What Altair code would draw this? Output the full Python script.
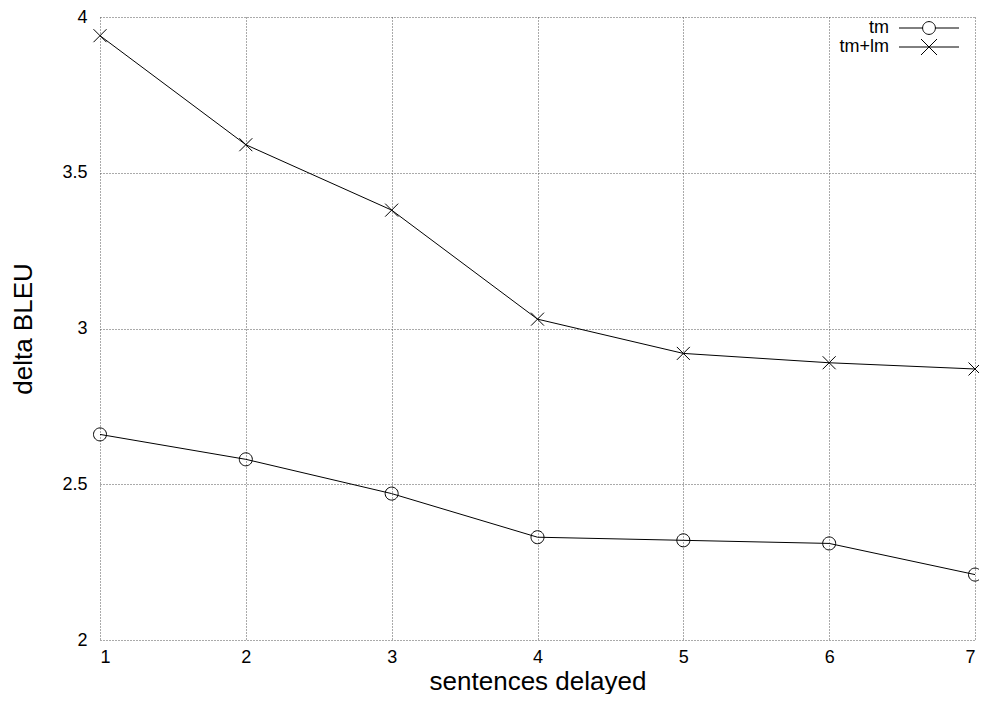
import altair as alt
import pandas as pd

delays = [1, 2, 3, 4, 5, 6, 7]
tm = [2.66, 2.58, 2.47, 2.33, 2.32, 2.31, 2.21]
tm_lm = [3.94, 3.59, 3.38, 3.03, 2.92, 2.89, 2.87]
series_names = ["tm", "tm+lm"]
y_ticks = [2, 2.5, 3, 3.5, 4]

rows = []
for d, v in zip(delays, tm):
    rows.append({"delay": d, "bleu": v, "series": "tm"})
for d, v in zip(delays, tm_lm):
    rows.append({"delay": d, "bleu": v, "series": "tm+lm"})
df = pd.DataFrame(rows)

CIRCLE = "M-1,0A1,1 0 1,1 1,0A1,1 0 1,1 -1,0"
CROSS = "M-1,-1L1,1M-1,1L1,-1"
# legend symbols: unit = 8px (symbolSize 256)
LEG_CIRCLE = "M-3.75,0H-0.8M0.8,0H3.75M-0.8,0A0.8,0.8 0 1,1 0.8,0A0.8,0.8 0 1,1 -0.8,0"
LEG_CROSS = "M-3.75,0H3.75M-1,-1L1,1M-1,1L1,-1"

FONT = "Liberation Sans"

x_enc = alt.X("delay:Q", title="sentences delayed",
              scale=alt.Scale(domain=[1, 7], nice=False),
              axis=alt.Axis(values=delays, format="~g"))
y_enc = alt.Y("bleu:Q", title="delta BLEU",
              scale=alt.Scale(domain=[2, 4], nice=False, zero=False),
              axis=alt.Axis(values=y_ticks, format="~g"))

base = alt.Chart(df)

lines = base.mark_line(color="black", strokeWidth=1).encode(
    x=x_enc, y=y_enc, detail="series:N"
)

points = base.mark_point(color="black", filled=False, strokeWidth=1, size=169, opacity=1).encode(
    x=x_enc, y=y_enc,
    shape=alt.Shape("series:N", scale=alt.Scale(domain=series_names, range=[CIRCLE, CROSS]), legend=None),
)

legend_layer = base.transform_filter("false").mark_point(
    color="black", filled=False, strokeWidth=1, opacity=1
).encode(
    x=x_enc, y=y_enc,
    shape=alt.Shape("series:N",
                    scale=alt.Scale(domain=series_names, range=[LEG_CIRCLE, LEG_CROSS]),
                    legend=alt.Legend(title=None, orient="none", legendX=820, legendY=2,
                                      padding=0,
                                      symbolSize=256, symbolStrokeWidth=1,
                                      symbolStrokeColor="black", symbolFillColor="transparent",
                                      symbolOpacity=1,
                                      labelAlign="right", labelOffset={"expr": "-49"},
                                      labelFontSize=18, labelFont=FONT, labelColor="black",
                                      rowPadding=0, labelLimit=200)),
)

chart = alt.layer(lines, points, legend_layer).resolve_scale(shape="independent").properties(
    width=875, height=623,
    autosize=alt.AutoSizeParams(type="none"),
    padding={"left": 92, "top": 9, "right": 4, "bottom": 54},
).configure_view(stroke=None).configure_axis(
    grid=True, gridColor="#555", gridDash=[1, 2], gridWidth=1,
    domain=False, ticks=False,
    labelFont=FONT, labelFontSize=18, labelColor="black",
    titleFont=FONT, titleFontSize=26, titleFontWeight="normal", titleColor="black",
).configure_axisX(labelPadding=8, titlePadding=2).configure_axisY(labelPadding=13, titlePadding=25)

chart.save("out.html", embed_options={"renderer": "svg", "actions": False})
